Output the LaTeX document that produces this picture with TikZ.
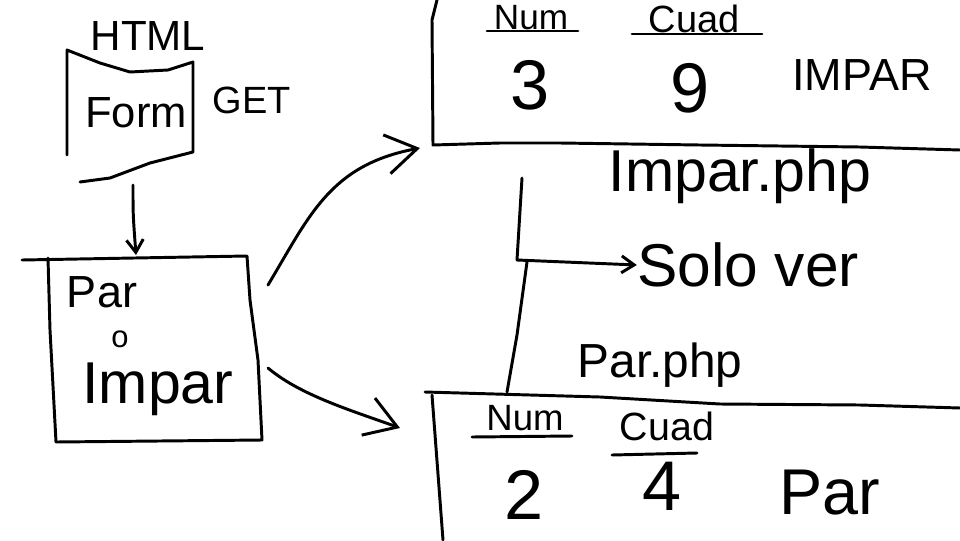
\documentclass[tikz,border=0pt]{standalone}
\usepackage{fontspec}
\setmainfont{Liberation Sans}
\usetikzlibrary{arrows.meta}
\tikzset{
  ink/.style={line width=2.1pt, line cap=round, line join=round, black},
  lbl/.style={inner sep=0pt, anchor=center},
  bigtip/.style={-{Straight Barb[length=22pt,width=28pt,line width=2.1pt]}},
  smalltip/.style={-{Straight Barb[length=9pt,width=12pt,line width=2.1pt]}}
}
\begin{document}
\begin{tikzpicture}[x=0.025cm,y=-0.025cm]
\useasboundingbox (0,0) rectangle (960,540);
% HTML form (document shape)
\draw[ink] (67,155) -- (67,50) -- (100,63) -- (130,72) -- (168,70) -- (193,62) -- (193,152) -- (150,163) -- (110,178) -- (80,182);
\node[lbl, font=\fontsize{30}{30}\selectfont] (html) at (148,36) {HTML};
\node[lbl, font=\fontsize{31}{31}\selectfont] (form) at (136,113) {Form};
\node[lbl, font=\fontsize{27}{27}\selectfont] (get) at (252,100) {GET};
\coordinate (formout) at (133,185);
\coordinate (boxin) at (136,255);
\draw[ink, smalltip] (formout) .. controls (133,215) .. (boxin);
% Par o Impar box
\draw[ink] (22,260) -- (247,256) -- (250,300) -- (258,360) -- (262,440) -- (56,442) -- (50,330) -- (48,258);
\node[lbl, font=\fontsize{32}{32}\selectfont] (par) at (102,292) {Par};
\node[lbl, font=\fontsize{22}{22}\selectfont] (o) at (120,339) {o};
\node[lbl, font=\fontsize{42}{42}\selectfont] (impar) at (158,389) {Impar};
% arrows to tables
\coordinate (boxup) at (268,285);
\coordinate (toptab) at (420,148);
\coordinate (boxdown) at (268,368);
\coordinate (bottab) at (400,428);
\draw[ink, bigtip] (boxup) .. controls (310,215) and (330,165) .. (toptab);
\draw[ink, bigtip] (boxdown) .. controls (300,395) and (350,410) .. (bottab);
% top table
\draw[ink] (437,0) -- (432,20) -- (433,145) -- (500,143) -- (560,143) -- (700,145) -- (860,147) -- (960,150);
\node[lbl, font=\fontsize{25}{25}\selectfont] (num1) at (531,18) {Num};
\draw[ink] (487,31) -- (578,31);
\node[lbl, font=\fontsize{27}{27}\selectfont] (cuad1) at (694,19) {Cuad};
\draw[ink] (632,34) -- (762,34);
\node[lbl, font=\fontsize{50}{50}\selectfont] (n3) at (530,85) {3};
\node[lbl, font=\fontsize{50}{50}\selectfont] (n9) at (690,88) {9};
\node[lbl, font=\fontsize{32}{32}\selectfont] (imparup) at (862,75) {IMPAR};
% middle
\node[lbl, font=\fontsize{42}{42}\selectfont] (imparphp) at (740,176) {Impar.php};
\node[lbl, font=\fontsize{43}{43}\selectfont] (solover) at (748,265) {Solo ver};
\node[lbl, font=\fontsize{34}{34}\selectfont] (parphp) at (660,365) {Par.php};
\coordinate (vtop) at (522,178);
\coordinate (vmid) at (517,260);
\coordinate (vlow) at (527,262);
\coordinate (vbot) at (507,392);
\draw[ink] (vtop) -- (vmid);
\draw[ink] (vlow) -- (517,335) -- (vbot);
\draw[ink, smalltip] (vmid) -- (solover.west);
% bottom table
\draw[ink] (425,392) -- (600,397) -- (720,404) -- (860,405) -- (960,408);
\draw[ink] (432,395) -- (443,540);
\node[lbl, font=\fontsize{26}{26}\selectfont] (num2) at (525,418) {Num};
\draw[ink] (472,437) -- (572,436);
\node[lbl, font=\fontsize{28}{28}\selectfont] (cuad2) at (667,426) {Cuad};
\draw[ink] (612,455) -- (697,453);
\node[lbl, font=\fontsize{50}{50}\selectfont] (n2) at (524,495) {2};
\node[lbl, font=\fontsize{50}{50}\selectfont] (n4) at (662,486) {4};
\node[lbl, font=\fontsize{46}{46}\selectfont] (parlow) at (830,493) {Par};
\end{tikzpicture}
\end{document}
